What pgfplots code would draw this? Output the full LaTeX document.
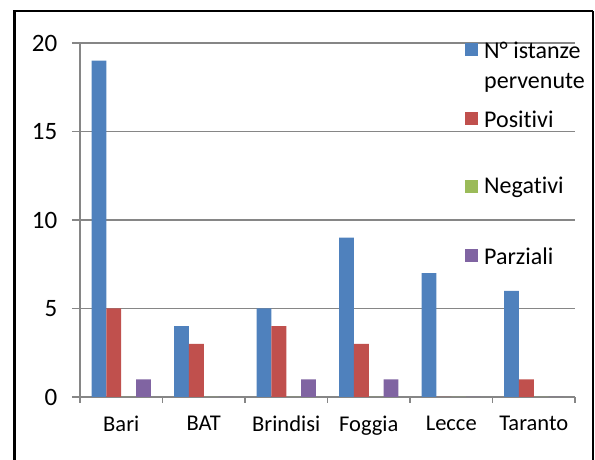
\documentclass[border=0pt]{standalone}
\usepackage{pgfplots}
\pgfplotsset{compat=1.18}
\usepackage{fontspec}
\setmainfont[Ligatures={NoCommon,NoContextual,NoRequired}]{Carlito}
\definecolor{cblue}{HTML}{4F81BD}
\definecolor{cred}{HTML}{C0504D}
\definecolor{cgreen}{HTML}{9BBB59}
\definecolor{cpurple}{HTML}{8064A2}
\definecolor{cgrid}{HTML}{868686}
\begin{document}
\begin{tikzpicture}[x=1pt,y=1pt]
\useasboundingbox (0,0) rectangle (595,460);
\clip (0,0) rectangle (595,460);
\begin{axis}[
  at={(80pt,63pt)}, anchor=south west,
  scale only axis, width=495pt, height=354pt,
  ybar=0pt, bar width=14.8pt,
  xmin=-0.5, xmax=5.5, ymin=0, ymax=20,
  xtick={-0.5,0.5,...,5.5},
  x tick label as interval,
  xticklabels={Bari,BAT,Brindisi,Foggia,Lecce,Taranto},
  ytick={0,5,...,20},
  axis x line*=bottom, axis y line*=left,
  axis line style={cgrid, line width=1.6pt, -},
  ymajorgrids, grid style={cgrid, line width=1.4pt},
  tick align=outside,
  xtick style={cgrid, line width=1.4pt, /pgfplots/major tick length=6pt},
  ytick style={cgrid, line width=1.4pt, /pgfplots/major tick length=8pt},
  /pgf/number format/assume math mode=true,
  yticklabel style={font=\fontsize{25}{28}\selectfont, xshift=-15pt},
  xticklabel style={font=\fontsize{22.5}{26}\selectfont, yshift=-11pt},
  every axis plot/.append style={draw=none},
]
\addplot[fill=cblue] coordinates {(0,19) (1,4) (2,5) (3,9) (4,7) (5,6)};
\addplot[fill=cred] coordinates {(0,5) (1,3) (2,4) (3,3) (4,0) (5,1)};
\addplot[fill=cgreen] coordinates {(0,0) (1,0) (2,0) (3,0) (4,0) (5,0)};
\addplot[fill=cpurple] coordinates {(0,1) (1,0) (2,1) (3,1) (4,0) (5,0)};
\end{axis}
% legend
\begin{scope}[every node/.style={anchor=west, inner sep=0pt, font=\fontsize{24}{28}\selectfont}]
\fill[cblue] (465,404) rectangle (478,417);
\node at (484,410) {N° istanze};
\node at (484,377) {pervenute};
\fill[cred] (465,335) rectangle (478,348);
\node at (484,341) {Positivi};
\fill[cgreen] (465,267) rectangle (478,280);
\node at (484,273) {Negativi};
\fill[cpurple] (465,198) rectangle (478,211);
\node at (484,204) {Parziali};
\end{scope}
% frame
\draw[line width=3pt] (14.5,-10) -- (14.5,449);
\draw[line width=2pt] (13,449) -- (593,449);
\draw[line width=1.5pt] (593,449) -- (593,-10);
\end{tikzpicture}
\end{document}
